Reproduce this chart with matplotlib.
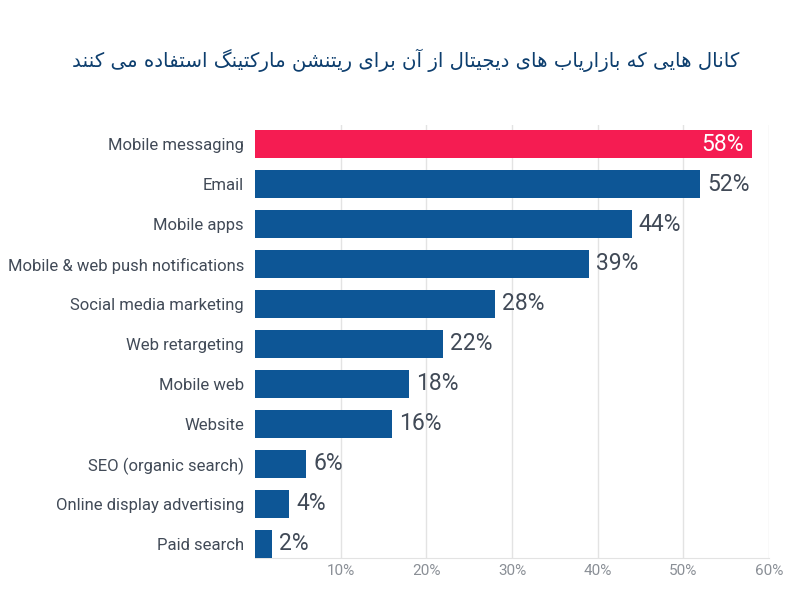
import matplotlib
matplotlib.use("Agg")
import matplotlib.pyplot as plt

categories = [
    "Mobile messaging", "Email", "Mobile apps", "Mobile & web push notifications",
    "Social media marketing", "Web retargeting", "Mobile web", "Website",
    "SEO (organic search)", "Online display advertising", "Paid search",
]
values = [58, 52, 44, 39, 28, 22, 18, 16, 6, 4, 2]
xticks = [10, 20, 30, 40, 50, 60]
title = "کانال هایی که بازاریاب های دیجیتال از آن برای ریتنشن مارکتینگ استفاده می کنند"

# (isolated, final, initial, medial) presentation forms
FORMS = {
    "\u0627": ("\uFE8D", "\uFE8E", None, None),
    "\u0622": ("\uFE81", "\uFE82", None, None),
    "\u062F": ("\uFEA9", "\uFEAA", None, None),
    "\u0631": ("\uFEAD", "\uFEAE", None, None),
    "\u0632": ("\uFEAF", "\uFEB0", None, None),
    "\u0628": ("\uFE8F", "\uFE90", "\uFE91", "\uFE92"),
    "\u062A": ("\uFE95", "\uFE96", "\uFE97", "\uFE98"),
    "\u062C": ("\uFE9D", "\uFE9E", "\uFE9F", "\uFEA0"),
    "\u0633": ("\uFEB1", "\uFEB2", "\uFEB3", "\uFEB4"),
    "\u0634": ("\uFEB5", "\uFEB6", "\uFEB7", "\uFEB8"),
    "\u0641": ("\uFED1", "\uFED2", "\uFED3", "\uFED4"),
    "\u0644": ("\uFEDD", "\uFEDE", "\uFEDF", "\uFEE0"),
    "\u0645": ("\uFEE1", "\uFEE2", "\uFEE3", "\uFEE4"),
    "\u0646": ("\uFEE5", "\uFEE6", "\uFEE7", "\uFEE8"),
    "\u0647": ("\uFEE9", "\uFEEA", "\uFEEB", "\uFEEC"),
    "\u06A9": ("\uFB8E", "\uFB8F", "\uFB90", "\uFB91"),
    "\u06AF": ("\uFB92", "\uFB93", "\uFB94", "\uFB95"),
    "\u06CC": ("\uFBFC", "\uFBFD", "\uFBFE", "\uFBFF"),
}


def shape_rtl(text):
    # matplotlib has no arabic shaping, so pick the joined forms by hand
    out = []
    for i, ch in enumerate(text):
        if ch not in FORMS:
            out.append(ch)
            continue
        prev = text[i - 1] if i > 0 else ""
        nxt = text[i + 1] if i + 1 < len(text) else ""
        join_prev = prev in FORMS and FORMS[prev][2] is not None
        join_next = FORMS[ch][2] is not None and nxt in FORMS
        iso, fin, ini, med = FORMS[ch]
        if join_prev and join_next:
            out.append(med)
        elif join_prev:
            out.append(fin)
        elif join_next:
            out.append(ini)
        else:
            out.append(iso)
    return "".join(reversed(out))


plt.rcParams["font.family"] = ["Roboto", "DejaVu Sans"]

fig = plt.figure(figsize=(7.88, 5.93), dpi=100)
ax = fig.add_axes([255 / 788, 1 - 558 / 593, (769 - 255) / 788, (558 - 125) / 593])

red = "#f51c52"
blue = "#0d5696"
colors = [red] + [blue] * (len(values) - 1)
ypos = list(range(len(categories)))
ax.barh(ypos, values, height=0.7, color=colors, zorder=3)

ax.set_xlim(0, 60)
ax.set_ylim(10.35, -0.475)
ax.set_xticks(xticks)
ax.set_xticklabels([f"{t}%" for t in xticks], color="#8a8f96", fontsize=11)
ax.set_yticks(ypos)
ax.set_yticklabels(categories, color="#414a57", fontsize=12)
ax.tick_params(axis="both", length=0)
ax.tick_params(axis="x", pad=4)
ax.tick_params(axis="y", pad=8)
ax.grid(axis="x", color="#e3e3e3", linewidth=1, zorder=0)
for side in ["top", "right", "left"]:
    ax.spines[side].set_visible(False)
ax.spines["bottom"].set_color("#e3e3e3")

for i, v in enumerate(values):
    if i == 0:
        ax.text(v - 0.9, i, f"{v}%", va="center", ha="right", color="white", fontsize=16.5)
    else:
        ax.text(v + 0.8, i, f"{v}%", va="center", ha="left", color="#414a57", fontsize=16.5)

fig.text(406 / 788, 1 - 60 / 593, shape_rtl(title), ha="center", va="center",
         color="#0d3e6e", fontsize=14.2, family=["DejaVu Sans"])

fig.savefig("out.png", dpi=100)
